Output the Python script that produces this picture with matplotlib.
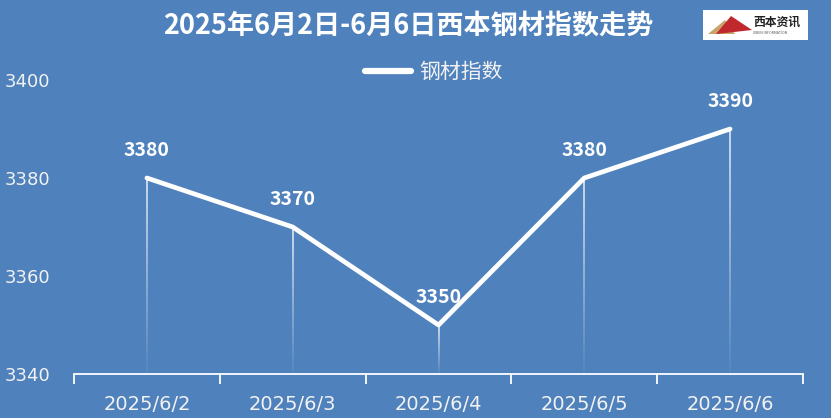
import numpy as np
import matplotlib.pyplot as plt
from matplotlib.patches import Rectangle, Polygon

plt.rcParams['font.family'] = ['Noto Sans CJK SC', 'DejaVu Sans']

# === Data ===
dates = ['2025/6/2', '2025/6/3', '2025/6/4', '2025/6/5', '2025/6/6']
values = [3380, 3370, 3350, 3380, 3390]
y_ticks = [3340, 3360, 3380, 3400]

bg = '#4F81BD'

fig = plt.figure(figsize=(8.31, 4.18), dpi=100, facecolor=bg)
ax = fig.add_axes([74 / 831, 1 - 374 / 418, 729 / 831, 294 / 418], facecolor=bg)

x = np.arange(len(dates))
ax.set_xlim(-0.5, len(dates) - 0.5)
ax.set_ylim(3340, 3400)

# drop lines fading toward the bottom
for xi, v in zip(x, values):
    edges = np.linspace(3340, v, 40)
    for i in range(len(edges) - 1):
        a = 0.05 + 0.8 * (i / (len(edges) - 1))
        ax.plot([xi, xi], [edges[i], edges[i + 1]], color='white', lw=1.2,
                alpha=a, solid_capstyle='butt', zorder=2)

# main line
ax.plot(x, values, color='white', lw=3.4, solid_capstyle='round',
        solid_joinstyle='round', zorder=3, label='钢材指数')

# data labels
for xi, v in zip(x, values):
    ax.annotate(str(v), (xi, v), xytext=(0, 20), textcoords='offset points',
                ha='center', va='center', color='white', fontsize=14,
                fontweight='bold')

# axes styling
for s in ['top', 'right', 'left']:
    ax.spines[s].set_visible(False)
ax.spines['bottom'].set_color('white')
ax.spines['bottom'].set_linewidth(1.3)

ax.set_yticks(y_ticks)
ax.set_yticklabels([str(t) for t in y_ticks], family='DejaVu Sans')
ax.tick_params(axis='y', length=0, pad=17, labelcolor='#F2F2F2', labelsize=13)
ax.set_xticks(x)
ax.set_xticklabels(dates, family='DejaVu Sans')
ax.set_xticks(np.arange(-0.5, len(dates), 1), minor=True)
ax.tick_params(axis='x', which='major', length=0, pad=15, labelcolor='#F2F2F2', labelsize=14)
ax.tick_params(axis='x', which='minor', length=7, width=1.3, color='white', direction='out')

# title
fig.text(408 / 831, 1 - 26 / 418, '2025年6月2日-6月6日西本钢材指数走势', ha='center', va='center',
         color='white', fontsize=19.5, fontweight='bold')

# legend
leg = ax.legend(loc='center', bbox_to_anchor=(434 / 831, 1 - 72 / 418), bbox_transform=fig.transFigure,
                frameon=False, handlelength=2.2, handletextpad=0.4, fontsize=15)
for t in leg.get_texts():
    t.set_color('#F2F2F2')
for h in leg.get_lines():
    h.set_linewidth(4.5)

# logo
fig.patches.append(Rectangle((703 / 831, 1 - 40 / 418), 105 / 831, 30 / 418,
                             transform=fig.transFigure, facecolor='white', edgecolor='none'))
fig.patches.append(Polygon([(708 / 831, 1 - 34 / 418), (725 / 831, 1 - 20 / 418), (735 / 831, 1 - 34 / 418)],
                           closed=True, transform=fig.transFigure, facecolor='#C9A46A', edgecolor='none'))
fig.patches.append(Polygon([(716 / 831, 1 - 34 / 418), (731 / 831, 1 - 16 / 418), (752 / 831, 1 - 30 / 418)],
                           closed=True, transform=fig.transFigure, facecolor='#C0282D', edgecolor='none'))
fig.text(777 / 831, 1 - 22 / 418, '西本资讯', ha='center', va='center', color='#222222',
         fontsize=8.5, fontweight='bold')
fig.text(770 / 831, 1 - 33 / 418, 'XIBEN INFORMATION', ha='center', va='center', color='#555555',
         fontsize=2.5)

fig.savefig('out.png', dpi=100, facecolor=bg)
